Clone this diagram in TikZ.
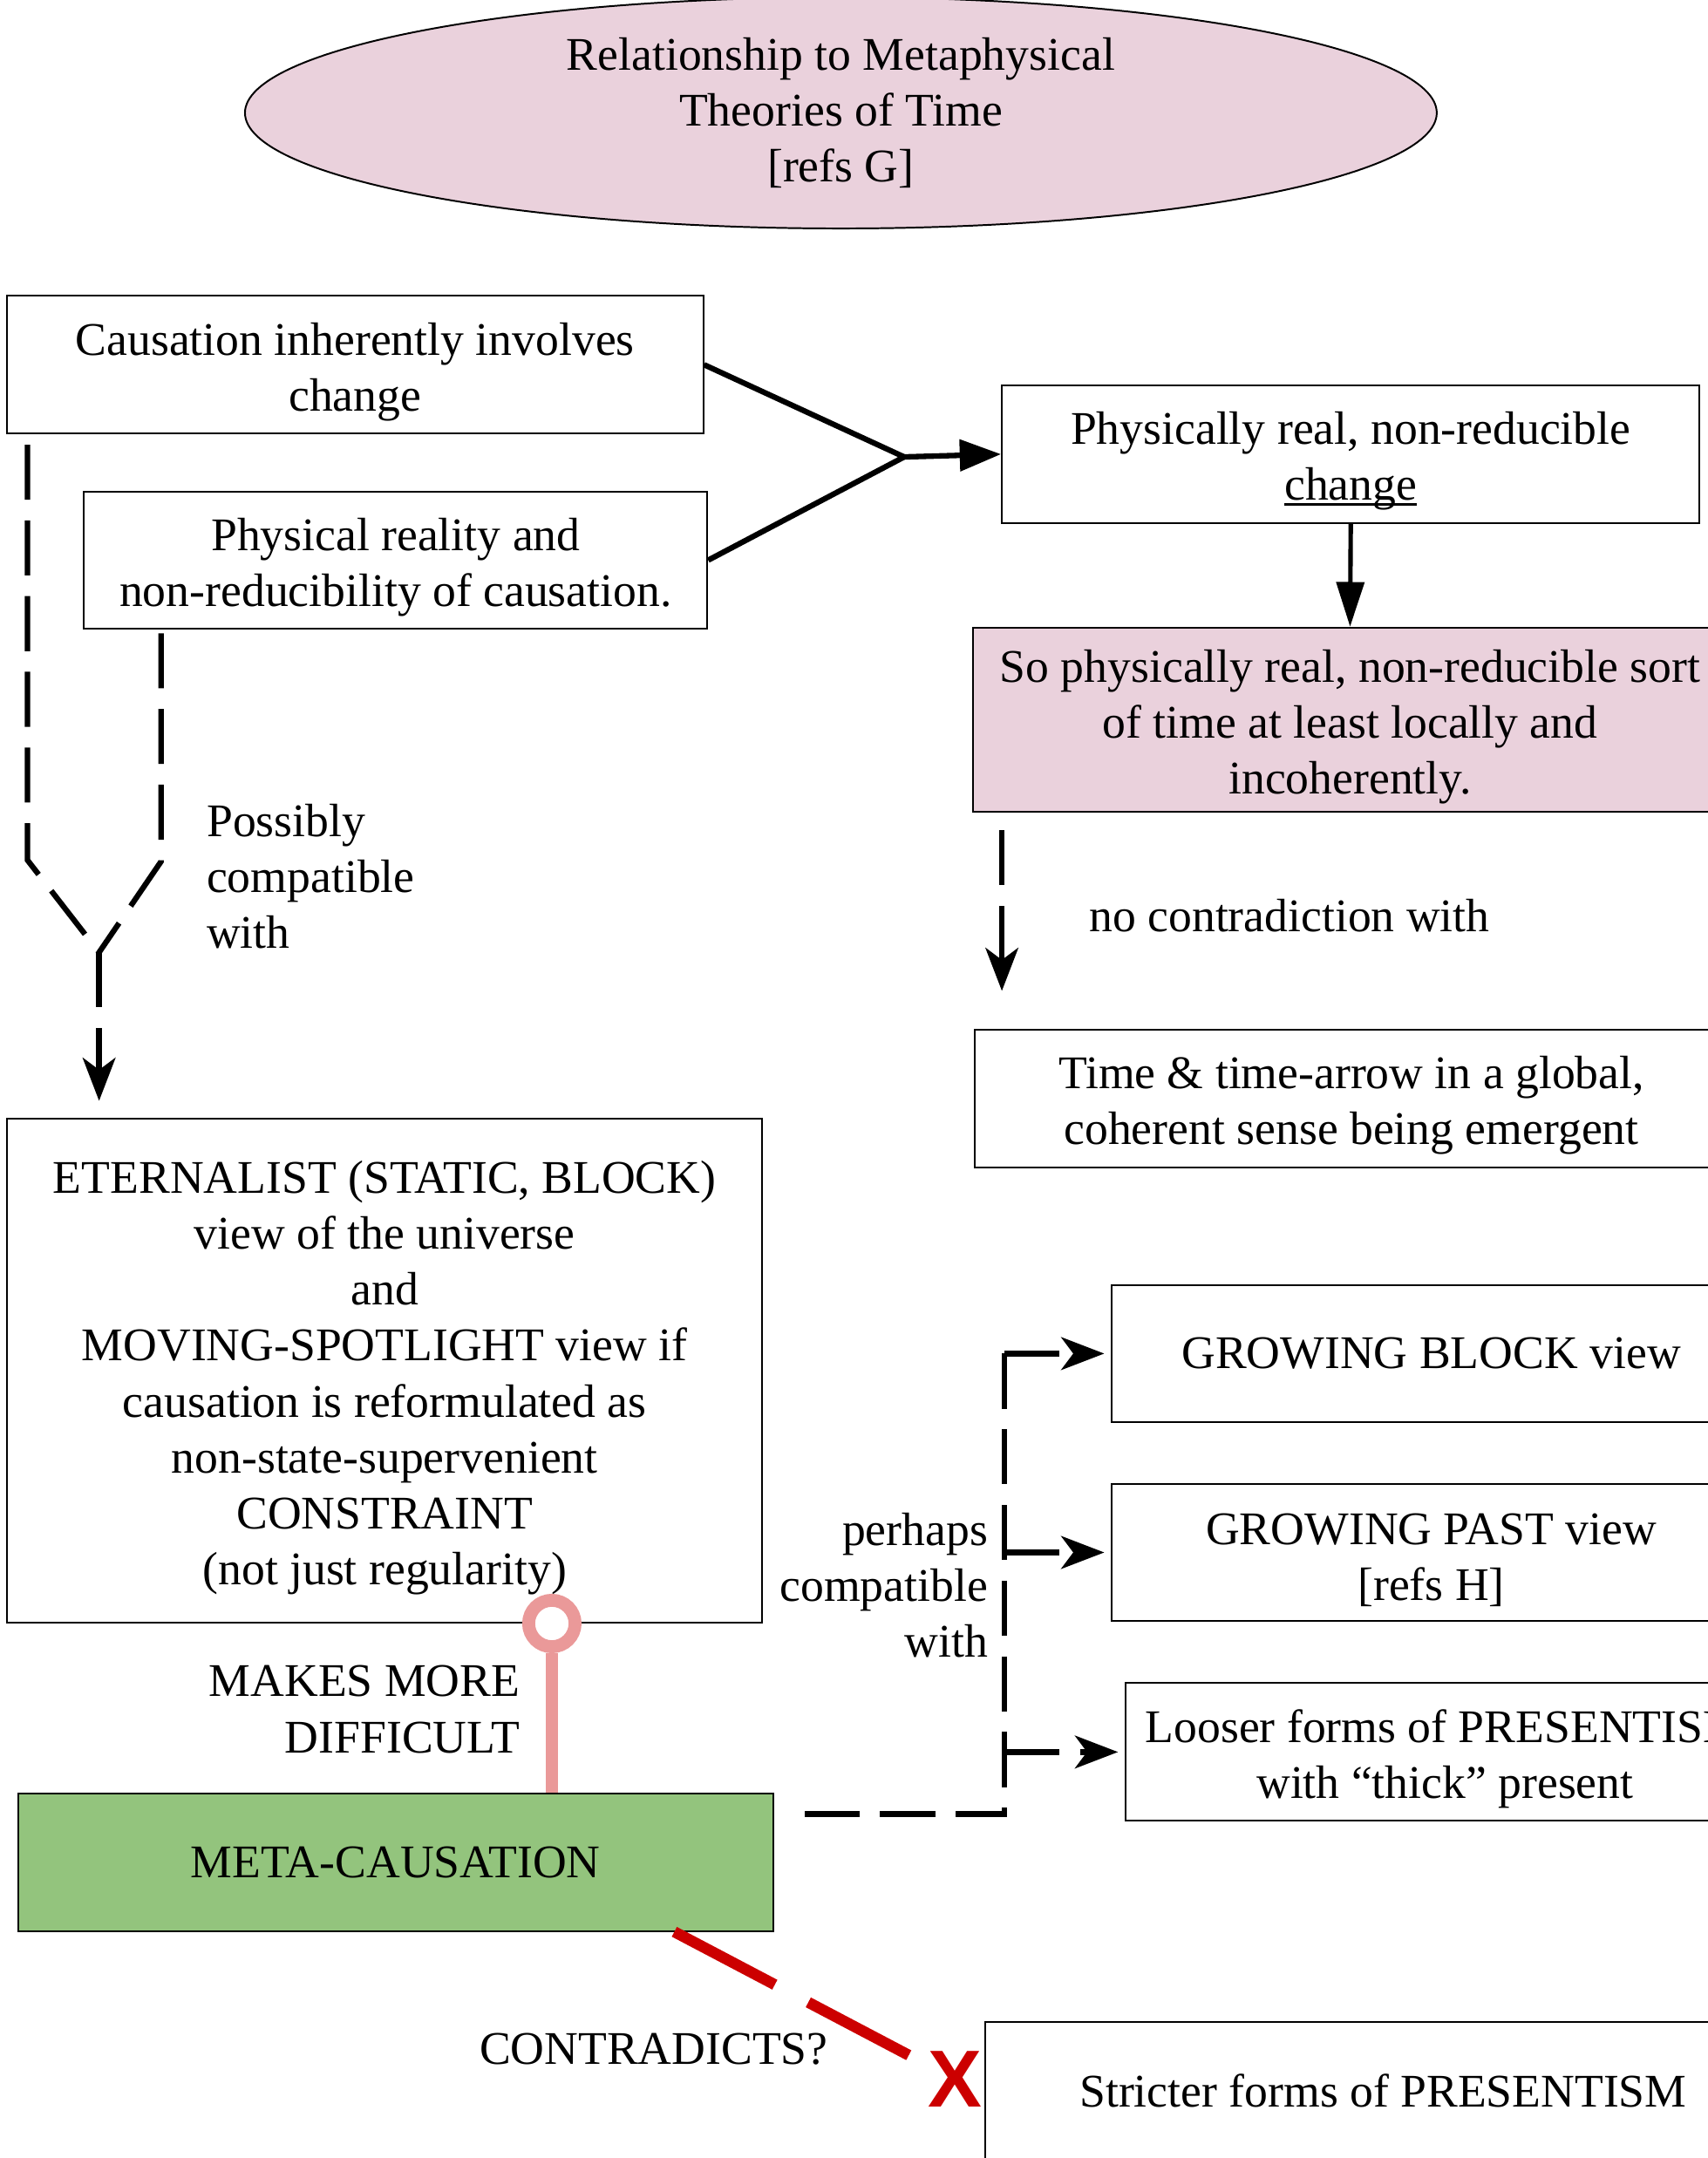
\documentclass[tikz,border=0pt]{standalone}
\usepackage{fontspec}
\setmainfont{Liberation Serif}
\newfontfamily\xsans{Liberation Sans}
\usetikzlibrary{arrows.meta,shapes.geometric,calc}
\definecolor{pinkfill}{HTML}{EAD1DC}
\definecolor{greenfill}{HTML}{93C47D}
\definecolor{pinkline}{HTML}{EA9999}
\definecolor{redline}{HTML}{CC0000}
\newcommand\boxstrut{\rule{0pt}{27pt}}
\tikzset{
  box/.style={draw=black, line width=1pt, align=center, inner sep=0pt, minimum height=80pt},
  lbl/.style={inner sep=0pt},
  solidarrow/.style={line width=3.2pt, -{Triangle[length=24pt,width=18pt]}},
  dashline/.style={line width=3.2pt, dash pattern=on 32pt off 12pt},
  dasharrow/.style={dashline, -{Stealth[length=25pt,width=19pt,inset=7pt]}},
}
\begin{document}
\begin{tikzpicture}[x=0.8pt,y=-0.8pt,
  every node/.style={font=\fontsize{27.2}{32.5}\selectfont}]
\useasboundingbox (0,0) rectangle (1241,1568);
\clip (0,0) rectangle (1241,1568);

% title
\node[ellipse, fill=pinkfill, draw=black, line width=1pt, minimum width=692.8pt, minimum height=134.4pt, align=center, inner sep=0pt] (T) at (611,82)
  {Relationship to Metaphysical\\Theories of Time\\{[refs G]}};

% boxes
\node[box, minimum width=404.8pt] (A) at (258,265) {\boxstrut Causation inherently involves\\change};
\node[box, minimum width=362.4pt] (B) at (287.5,407) {\boxstrut Physical reality and\\non-reducibility of causation.};
\node[box, minimum width=405.6pt] (C) at (981.5,330) {\boxstrut Physically real, non-reducible\\{\setbox0\hbox{change}\leavevmode\rlap{\rule[-3.2pt]{\wd0}{1.7pt}}\box0}};
\node[box, fill=pinkfill, minimum width=438.4pt, minimum height=107.2pt] (D) at (981,523) {\boxstrut So physically real, non-reducible sort\\of time at least locally and\\incoherently.};
\node[box, minimum width=438.4pt] (E) at (982,798) {\boxstrut Time \& time-arrow in a global,\\coherent sense being emergent};
\node[box, minimum width=439.2pt, minimum height=292.8pt] (F) at (279.5,996) {\boxstrut ETERNALIST (STATIC, BLOCK)\\view of the universe\\and\\MOVING-SPOTLIGHT view if\\causation is reformulated as\\non-state-supervenient\\CONSTRAINT\\(not just regularity)};
\node[box, minimum width=371.2pt, minimum height=79.2pt] (G) at (1040,983.5) {GROWING BLOCK view};
\node[box, minimum width=371.2pt] (H) at (1040,1128) {\boxstrut GROWING PAST view\\{[refs H]}};
\node[box, minimum width=371.2pt] (I) at (1050,1273) {\boxstrut Looser forms of PRESENTISM\\with “thick” present};
\node[box, fill=greenfill, minimum width=439.2pt] (J) at (287.5,1353) {META-CAUSATION};
\node[box, minimum width=462.4pt] (K) at (1005,1519) {Stricter forms of PRESENTISM};

% labels
\node[lbl, align=left, anchor=west] (L1) at (150,637) {Possibly\\compatible\\with};
\node[lbl] (L2) at (937,665) {no contradiction with};
\node[lbl, align=right, anchor=east] (L3) at (718,1152) {perhaps\\compatible\\with};
\node[lbl, align=right, anchor=east] (L4) at (378,1242) {MAKES MORE\\DIFFICULT};
\node[lbl] (L5) at (475,1489) {CONTRADICTS?};
\node[inner sep=0pt, text=redline, font=\xsans\bfseries\fontsize{47}{47}\selectfont] (X) at (694,1511) {X};

% merge arrow
\coordinate (m1) at (657,332);
\draw[line width=3.2pt] (A.east) -- (m1) -- (B.east);
\draw[solidarrow] (m1) -- (C.west);
\draw[line width=2.6pt, -{Triangle[length=26pt,width=16pt]}] (C.south) -- (D.north);

% Y connector
\coordinate (ya) at (20,625);
\coordinate (yb) at (117,626);
\coordinate (ym) at (72,692);
\draw[dashline, shorten <=6pt] (A.south -| ya) -- (ya) -- (ym);
\draw[dashline, shorten <=2pt] (B.south -| yb) -- (yb) -- (ym);
\draw[dasharrow, shorten >=10pt] (ym) -- (ym |- F.north);

% no contradiction
\coordinate (nc) at (728,720);
\draw[dasharrow, shorten <=10pt] (D.south -| nc) -- (nc);

% perhaps compatible
\coordinate (pc) at (730,1318);
\draw[dashline, shorten >=13pt] (pc |- G.west) -- (pc) -- (J.east |- pc);
\draw[dasharrow, shorten >=4pt] (pc |- G.west) -- (G.west);
\draw[dasharrow, shorten >=4pt] (pc |- H.west) -- (H.west);
\draw[dasharrow, shorten >=4pt] (pc |- I.west) -- (I.west);

% makes more difficult
\coordinate (rx) at (401,0);
\node[circle, draw=pinkline, fill=white, line width=7.5pt, minimum size=27pt, inner sep=0pt] (ring) at (F.south -| rx) {};
\draw[pinkline, line width=7pt] (J.north -| ring) -- (ring.south);

% contradicts
\coordinate (rs) at (490,0);
\draw[redline, line width=6.4pt, dash pattern=on 66pt off 22pt, shorten >=10pt] (J.south -| rs) -- (X);
\end{tikzpicture}
\end{document}
